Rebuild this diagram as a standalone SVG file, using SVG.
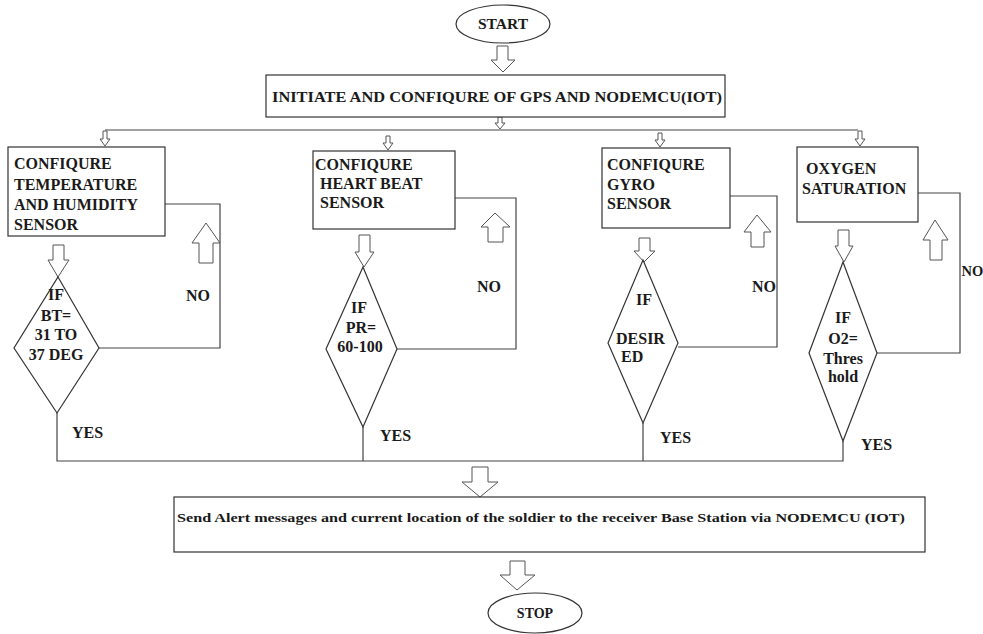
<svg xmlns="http://www.w3.org/2000/svg" width="983" height="634" viewBox="0 0 983 634">
<style>
.t{font-family:"Liberation Serif",Tinos,"Times New Roman","Nimbus Roman","DejaVu Serif",serif;font-weight:bold;fill:#1a1a1a;font-size:16px}
.c{text-anchor:middle}
.s15{font-size:15.5px}
.s14{font-size:14px}
.s12{font-size:12.5px}
.box{fill:#fff;stroke:#333;stroke-width:1.2}
.ln{fill:none;stroke:#444;stroke-width:1.2}
.ar{fill:#fff;stroke:#555;stroke-width:1}
</style>
<rect width="983" height="634" fill="#fff"/>
<g id="connectors">
<path class="ln" d="M105 130 H858"/>
<path class="ln" d="M165 204 H220 V348 H99"/>
<path class="ln" d="M455 198 H516 V349 H397"/>
<path class="ln" d="M730 196 H777 V347 H678"/>
<path class="ln" d="M918 193 H960 V353 H877"/>
<path class="ln" d="M57 413 V461 H843 V441"/>
<path class="ln" d="M363 427 V461"/>
<path class="ln" d="M643 423 V461"/>
<path class="ar" d="M497 46 H508 V60 H515 L503 72 L491 60 H497 Z"/>
<path class="ar" d="M498 117 H502 V123 H505 L500 129 L495 123 H498 Z"/>
<path class="ar" d="M103 131 H107 V139 H110 L105 146 L100 139 H103 Z"/>
<path class="ar" d="M386 136 H390 V143 H393 L388 150 L383 143 H386 Z"/>
<path class="ar" d="M658 133 H662 V140 H665 L660 147 L655 140 H658 Z"/>
<path class="ar" d="M858 131 H862 V139 H865 L860 146 L855 139 H858 Z"/>
<path class="ar" d="M53 245 H64 V260 H69 L58 277 L48 260 H53 Z"/>
<path class="ar" d="M359 235 H370 V252 H374 L364 267 L355 252 H359 Z"/>
<path class="ar" d="M639 238 H650 V251 H655 L644 262 L634 251 H639 Z"/>
<path class="ar" d="M838 230 H849 V246 H853 L844 262 L835 246 H838 Z"/>
<path class="ar" d="M199 263 H213 V243 H220 L206 223 L192 243 H199 Z"/>
<path class="ar" d="M488 242 H503 V227 H510 L495 213 L481 227 H488 Z"/>
<path class="ar" d="M751 247 H764 V232 H771 L757 215 L744 232 H751 Z"/>
<path class="ar" d="M930 260 H942 V240 H948 L935 220 L923 240 H930 Z"/>
<path class="ar" d="M472 467 H488 V482 H498 L480 497 L462 482 H472 Z"/>
<path class="ar" d="M510 561 H525 V575 H535 L517 590 L500 575 H510 Z"/>
</g>
<g id="start">
<ellipse class="box" cx="503" cy="24" rx="47" ry="19"/>
<text class="t c s15" x="503" y="29">START</text>
</g>
<g id="init">
<rect class="box" x="266" y="75" width="459" height="42"/>
<text class="t s15" x="272" y="102" textLength="450" lengthAdjust="spacingAndGlyphs">INITIATE AND CONFIQURE OF GPS AND NODEMCU(IOT)</text>
</g>
<g id="temp">
<rect class="box" x="8" y="147" width="157" height="89"/>
<text class="t" x="14" y="169">CONFIQURE</text>
<text class="t" x="14" y="190">TEMPERATURE</text>
<text class="t" x="14" y="210">AND HUMIDITY</text>
<text class="t" x="14" y="230">SENSOR</text>
</g>
<g id="heart">
<rect class="box" x="313" y="151" width="142" height="78"/>
<text class="t" x="315" y="170">CONFIQURE</text>
<text class="t" x="320" y="189">HEART BEAT</text>
<text class="t" x="320" y="208">SENSOR</text>
</g>
<g id="gyro">
<rect class="box" x="602" y="148" width="128" height="80"/>
<text class="t" x="607" y="170">CONFIQURE</text>
<text class="t" x="607" y="190">GYRO</text>
<text class="t" x="607" y="209">SENSOR</text>
</g>
<g id="oxygen">
<rect class="box" x="797" y="147" width="121" height="75"/>
<text class="t" x="806" y="174">OXYGEN</text>
<text class="t" x="802" y="194">SATURATION</text>
</g>
<g id="d1">
<polygon class="box" points="58,277 99,348 57,413 14,348"/>
<text class="t c" x="56" y="300">IF</text>
<text class="t c" x="56" y="321">BT=</text>
<text class="t c" x="56" y="340">31 TO</text>
<text class="t c" x="56" y="360">37 DEG</text>
</g>
<g id="d2">
<polygon class="box" points="363,267 397,349 363,427 326,349"/>
<text class="t c" x="359" y="313">IF</text>
<text class="t c" x="361" y="333">PR=</text>
<text class="t c" x="360" y="352">60-100</text>
</g>
<g id="d3">
<polygon class="box" points="643,260 678,343 643,423 608,343"/>
<text class="t c" x="644" y="305">IF</text>
<text class="t" x="616" y="344">DESIR</text>
<text class="t" x="621" y="362">ED</text>
</g>
<g id="d4">
<polygon class="box" points="843,262 877,353 843,441 809,353"/>
<text class="t c" x="843" y="323">IF</text>
<text class="t c" x="843" y="344">O2=</text>
<text class="t c" x="843" y="364">Thres</text>
<text class="t c" x="843" y="382">hold</text>
</g>
<g id="labels">
<text class="t" x="186" y="301">NO</text>
<text class="t" x="477" y="292">NO</text>
<text class="t" x="752" y="292">NO</text>
<text class="t" x="961.5" y="276" style="font-size:14.5px">NO</text>
<text class="t" x="72" y="438">YES</text>
<text class="t" x="380" y="441">YES</text>
<text class="t" x="660" y="443">YES</text>
<text class="t" x="861" y="450">YES</text>
</g>
<g id="send">
<rect class="box" x="174" y="497" width="751" height="55"/>
<text class="t s12" x="177" y="522" textLength="728" lengthAdjust="spacingAndGlyphs">Send Alert messages and current location of the soldier to the receiver Base Station via NODEMCU (IOT)</text>
</g>
<g id="stop">
<ellipse class="box" cx="535" cy="613" rx="47" ry="20"/>
<text class="t c s14" x="535" y="618">STOP</text>
</g>
</svg>
